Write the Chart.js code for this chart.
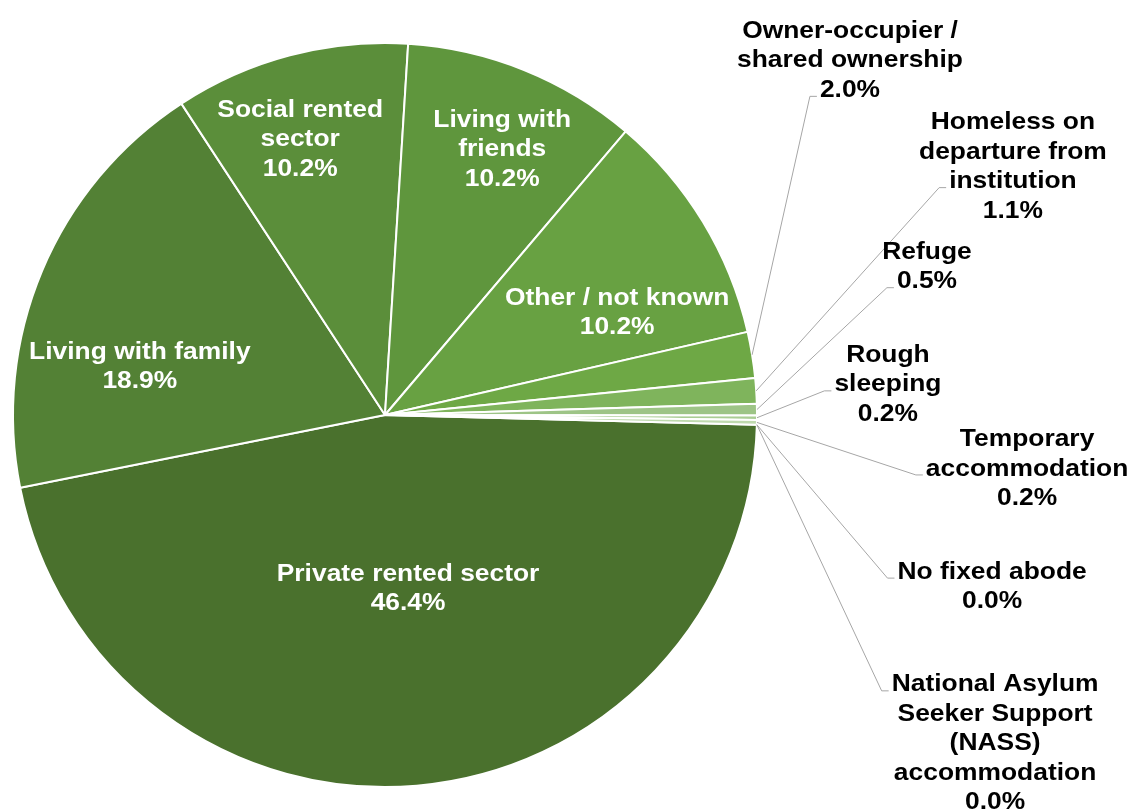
<!DOCTYPE html>
<html>
<head>
<meta charset="utf-8">
<script src="https://cdn.jsdelivr.net/npm/chart.js@4.4.1/dist/chart.umd.min.js"></script>
<style>
  html, body { margin: 0; padding: 0; background: #fff; }
  #wrap { width: 1131px; height: 810px; }
</style>
</head>
<body>
<div id="wrap"><canvas id="pie"></canvas></div>
<script>
// Accommodation at time of application, share of cases (%)
const categories = [
  ['Private rented sector'],
  ['Living with family'],
  ['Social rented', 'sector'],
  ['Living with', 'friends'],
  ['Other / not known'],
  ['Owner-occupier /', 'shared ownership'],
  ['Homeless on', 'departure from', 'institution'],
  ['Refuge'],
  ['Rough', 'sleeping'],
  ['Temporary', 'accommodation'],
  ['No fixed abode'],
  ['National Asylum', 'Seeker Support', '(NASS)', 'accommodation']
];
const shares = [46.4, 18.9, 10.2, 10.2, 10.2, 2.0, 1.1, 0.5, 0.2, 0.2, 0.0, 0.0];

const sliceColours = ['#4a712d', '#538135', '#5b8e3a', '#5f963d', '#68a142', '#6ea845',
  '#7fb45c', '#9dc486', '#aacd94', '#bfdaae', '#d0e4c3', '#dfecd6'];

// label placement: block centre offset from pie centre in radius units,
// inside = white text on the slice, otherwise black text with a leader line
const labelPlacement = [
  { dx: 0.062, dy: 0.467, inside: true },
  { dx: -0.659, dy: -0.129, inside: true },
  { dx: -0.228, dy: -0.740, inside: true },
  { dx: 0.315, dy: -0.713, inside: true },
  { dx: 0.624, dy: -0.275, inside: true },
  { dx: 1.250, dy: -0.952, hook: 2 },
  { dx: 1.688, dy: -0.667, hook: 2 },
  { dx: 1.457, dy: -0.398, hook: 1 },
  { dx: 1.352, dy: -0.081, hook: 1 },
  { dx: 1.726, dy: 0.145, hook: 1 },
  { dx: 1.632, dy: 0.462, hook: 0 },
  { dx: 1.640, dy: 0.884, hook: 0 }
];

const LINE_H = 29.5;
const FONT = 'bold 24px "Liberation Sans", Arial, sans-serif';
const STRETCH = 1.1;   // labels are set a little wide

const sliceLabels = {
  id: 'sliceLabels',
  afterDatasetsDraw(chart) {
    const ctx = chart.ctx;
    const arcs = chart.getDatasetMeta(0).data;
    ctx.save();
    ctx.font = FONT;
    ctx.textAlign = 'center';
    ctx.textBaseline = 'middle';
    arcs.forEach((arc, i) => {
      const p = arc.getProps(['x', 'y', 'startAngle', 'endAngle', 'outerRadius'], true);
      const place = labelPlacement[i];
      const lines = categories[i].concat([shares[i].toFixed(1) + '%']);
      const cx = p.x + place.dx * p.outerRadius;
      const cy = p.y + place.dy * p.outerRadius;
      const top = cy - (lines.length - 1) * LINE_H / 2;

      if (!place.inside) {
        // leader from slice edge to the left side of the hooked line
        const mid = (p.startAngle + p.endAngle) / 2;
        const ex = p.x + Math.cos(mid) * p.outerRadius;
        const ey = p.y + Math.sin(mid) * p.outerRadius;
        const hookY = top + place.hook * LINE_H + 6;
        const hookX = cx - ctx.measureText(lines[place.hook]).width * STRETCH / 2 - 3;
        ctx.beginPath();
        ctx.moveTo(ex, ey);
        ctx.lineTo(hookX - 7, hookY);
        ctx.lineTo(hookX, hookY);
        ctx.strokeStyle = '#a6a6a6';
        ctx.lineWidth = 1;
        ctx.stroke();
      }

      ctx.fillStyle = place.inside ? '#ffffff' : '#000000';
      lines.forEach((t, k) => {
        ctx.save();
        ctx.translate(cx, top + k * LINE_H);
        ctx.scale(STRETCH, 1);
        ctx.fillText(t, 0, 0);
        ctx.restore();
      });
    });
    ctx.restore();
  }
};

new Chart(document.getElementById('pie'), {
  type: 'pie',
  data: {
    labels: categories,
    datasets: [{
      data: shares,
      backgroundColor: sliceColours,
      borderColor: '#ffffff',
      borderWidth: 2
    }]
  },
  options: {
    responsive: true,
    maintainAspectRatio: false,
    animation: false,
    rotation: 91.5,
    layout: { padding: { left: 12, top: 42, right: 373, bottom: 22 } },
    plugins: { legend: { display: false }, tooltip: { enabled: false } }
  },
  plugins: [sliceLabels]
});
</script>
</body>
</html>
